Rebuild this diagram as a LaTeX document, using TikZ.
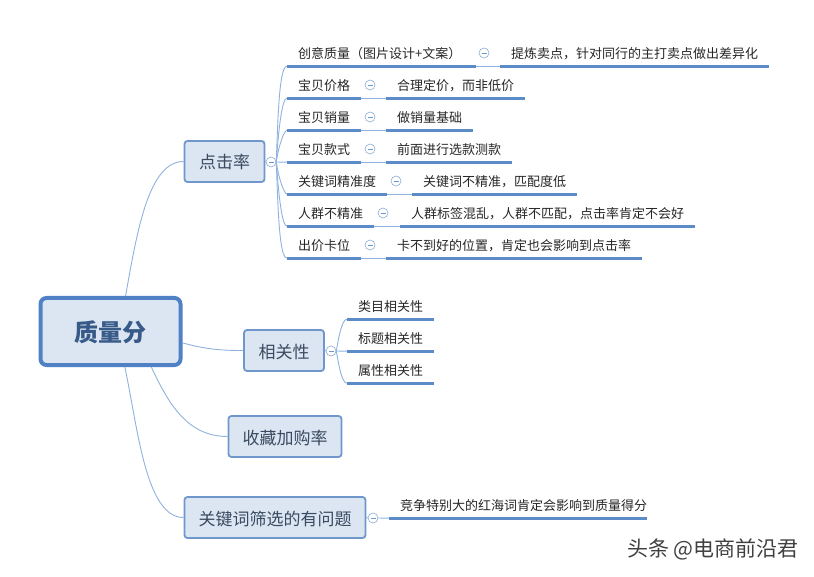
\documentclass[tikz,border=0pt]{standalone}
\usepackage{fontspec}
\setmainfont{Noto Sans CJK SC}
\definecolor{boxfill}{HTML}{DCE6F2}
\definecolor{boxline}{HTML}{6F97CC}
\definecolor{rootline}{HTML}{4F81C4}
\definecolor{underline}{HTML}{5B8CC8}
\definecolor{thinline}{HTML}{8FB2DE}
\definecolor{boxtext}{HTML}{3A4A60}
\usetikzlibrary{positioning}
\tikzset{
  topic/.style={draw=boxline,line width=1.8pt,fill=boxfill,rounded corners=3pt,text=boxtext,
    font=\fontsize{17}{20}\selectfont,minimum height=41pt,inner xsep=0pt,inner ysep=0pt,
    text height=16pt,text depth=1pt},
  rootbox/.style={draw=rootline,line width=4pt,fill=boxfill,rounded corners=6pt,text=rootline!70!black,
    font=\fontsize{24}{28}\selectfont\bfseries,minimum width=140pt,minimum height=67pt,
    text height=22pt,text depth=2pt},
  leaf/.style={anchor=west,font=\fontsize{13}{15}\selectfont,text=black!85,
    minimum height=26pt,inner xsep=11pt,inner ysep=0pt,text height=12.4pt,text depth=.6pt},
  fold/.style={circle,draw=boxline!80,line width=.6pt,fill=white,minimum size=10pt,inner sep=0pt,
    path picture={\draw[boxline,line width=.6pt] ([xshift=2.5pt]path picture bounding box.west) -- ([xshift=-2.5pt]path picture bounding box.east);}},
  link/.style={draw=thinline,line width=.9pt},
  under/.style={draw=underline,line width=3pt}
}
\begin{document}
\begin{tikzpicture}[x=1pt,y=-1pt]
\useasboundingbox (0,0) rectangle (814,577);
% main topics
\node[rootbox] (root) at (110.5,331.5) {质量分};
\node[topic,minimum width=80pt] (click) at (224.5,161.5) {点击率};
\node[topic,minimum width=80pt] (rel) at (284,350.5) {相关性};
\node[topic,minimum width=113pt] (fav) at (285,436.5) {收藏加购率};
\node[topic,minimum width=181pt] (kw) at (275,517.5) {关键词筛选的有问题};
% fold marks
\node[fold] (hclick) at (271,162) {};
\node[fold] (hrel) at (331,351) {};
\node[fold] (hkw) at (373,518) {};
\node[fold] (f1) at (484,53) {};
\node[fold] (f2) at (370,85) {};
\node[fold] (f3) at (370,117) {};
\node[fold] (f4) at (370,149) {};
\node[fold] (f5) at (396,181) {};
\node[fold] (f6) at (383,213) {};
\node[fold] (f7) at (370,245) {};
% first level under click
\node[leaf] (c1) at (287,53) {创意质量（图片设计+文案）\hspace*{3pt}};
\node[leaf] (c2) at (287,85) {宝贝价格};
\node[leaf] (c3) at (287,117) {宝贝销量};
\node[leaf] (c4) at (287,149) {宝贝款式};
\node[leaf] (c5) at (287,181) {关键词精准度};
\node[leaf] (c6) at (287,213) {人群不精准};
\node[leaf] (c7) at (287,245) {出价卡位};
% second level under click
\node[leaf] (v1) at (500,53) {提炼卖点，针对同行的主打卖点做出差异化};
\node[leaf] (v2) at (386,85) {合理定价，而非低价};
\node[leaf] (v3) at (386,117) {做销量基础};
\node[leaf] (v4) at (386,149) {前面进行选款测款};
\node[leaf] (v5) at (412,181) {关键词不精准，匹配度低};
\node[leaf] (v6) at (400,213) {人群标签混乱，人群不匹配，点击率肯定不会好};
\node[leaf] (v7) at (386,245) {卡不到好的位置，肯定也会影响到点击率};
% under rel
\node[leaf] (r1) at (347,306) {类目相关性};
\node[leaf] (r2) at (347,338) {标题相关性};
\node[leaf] (r3) at (347,370) {属性相关性};
% under kw
\node[leaf,inner xsep=0pt] (k1) at (389,505) {\hspace*{11pt}竞争特别大的红海词肯定会影响到质量得分};
% watermark
\node[anchor=west,inner sep=0pt,text=black!75,font=\fontsize{21}{24}\selectfont] (mark) at (627,549) {头条 @电商前沿君};
% connectors
\draw[link] (root.67) to[out=80,in=180,out looseness=1.2,in looseness=.6] (click.west);
\draw[link] (root.-9) to[out=-15,in=180] (rel.west);
\draw[link] (root.-41) to[out=-65,in=180] (fav.west);
\draw[link] (root.-68) to[out=-78,in=180,in looseness=.6] (kw.west);
\foreach \from/\to in {click/hclick,rel/hrel,kw/hkw}
\draw[link] (\from.east) -- (\to.west);
\foreach \to/\ang in {c1/88,c2/86,c3/82}
\draw[link] (hclick.east) to[out=\ang,in=180,out looseness=1.3,in looseness=.2] (\to.south west);
\draw[link] (hclick.east) -- (c4.south west);
\foreach \to/\ang in {c5/-82,c6/-86,c7/-88}
\draw[link] (hclick.east) to[out=\ang,in=180,out looseness=1.3,in looseness=.2] (\to.south west);
\draw[link] (hrel.east) to[out=80,in=180,in looseness=.4] (r1.south west);
\draw[link] (hrel.east) -- (r2.south west);
\draw[link] (hrel.east) to[out=-80,in=180,in looseness=.4] (r3.south west);
\draw[link] (hkw.east) -- (k1.south west);
\foreach \i in {1,...,7}
\draw[link] (c\i.south east) -- (v\i.south west);
% underlines
\foreach \n in {c1,c2,c3,c4,c5,c6,c7,v1,v2,v3,v4,v5,v6,v7,r1,r2,r3,k1}
\draw[under] (\n.south west) -- (\n.south east);
\end{tikzpicture}
\end{document}
